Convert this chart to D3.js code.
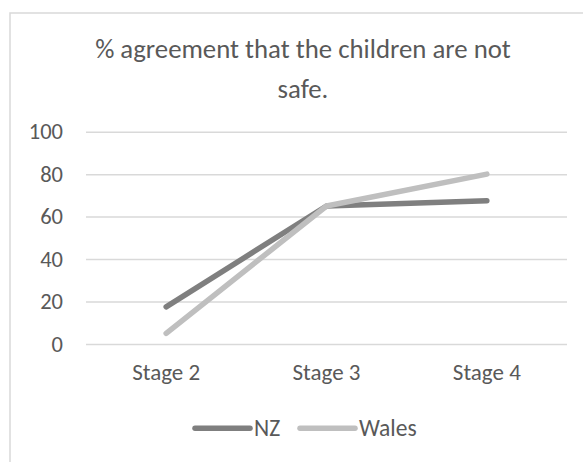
<!DOCTYPE html>
<html><head><meta charset="utf-8">
<script src="https://cdn.jsdelivr.net/npm/d3@7"></script>
<style>body{margin:0;background:#fff}svg{display:block}text{font-family:Carlito,Lato,"Open Sans",sans-serif;fill:#595959}</style>
</head><body>
<svg id="c" width="583" height="462"></svg>
<script>
const categories = ["Stage 2", "Stage 3", "Stage 4"];
const nzValues = [17.5, 65, 67.5];
const walesValues = [5, 65, 80];
const yTicks = [0, 20, 40, 60, 80, 100];
const seriesNames = ["NZ", "Wales"];
const titleLines = ["% agreement that the children are not", "safe."];

const series = [
  {name: seriesNames[0], values: nzValues, color: "#7f7f7f"},
  {name: seriesNames[1], values: walesValues, color: "#bfbfbf"}
];

const svg = d3.select("#c");
// chart border (cropped at right and bottom)
svg.append("rect").attr("x", 10).attr("y", 13).attr("width", 600).attr("height", 500)
  .attr("fill", "#fff").attr("stroke", "#d9d9d9").attr("stroke-width", 1.5);

const x = d3.scaleBand().domain(categories).range([86, 567]);
const y = d3.scaleLinear().domain([0, 100]).range([344, 131.7]);

// title
const title = svg.append("text").attr("text-anchor", "middle").attr("font-size", 26.8);
titleLines.forEach((l, i) => title.append("tspan").attr("x", 303).attr("y", 58 + i * 40).text(l));

// gridlines + y labels
const yAxis = d3.axisLeft(y).tickValues(yTicks).tickSize(-(567 - 86)).tickPadding(23);
const gy = svg.append("g").attr("transform", "translate(86,0)").call(yAxis);
gy.select(".domain").remove();
gy.selectAll(".tick line").attr("stroke", "#d9d9d9").attr("stroke-width", 1.5);
gy.selectAll(".tick text").attr("font-size", 22.5).attr("fill", "#595959");

const xAxis = d3.axisBottom(x).tickSize(0).tickPadding(20);
const gx = svg.append("g").attr("transform", "translate(0,344)").call(xAxis);
gx.select(".domain").remove();
gx.selectAll(".tick text").attr("font-size", 23).attr("fill", "#595959");
gy.attr("font-family", null); gx.attr("font-family", null);

const line = d3.line().x((d, i) => x(categories[i]) + x.bandwidth() / 2).y(d => y(d));
series.forEach(s => {
  svg.append("path").attr("d", line(s.values)).attr("fill", "none")
    .attr("stroke", s.color).attr("stroke-width", 5.5).attr("stroke-linecap", "round").attr("stroke-linejoin", "round");
});

// legend
const legendX = [195, 300];
series.forEach((s, i) => {
  const g = svg.append("g").attr("transform", `translate(${legendX[i]},428.3)`);
  g.append("line").attr("x1", 0).attr("x2", 55).attr("y1", 0).attr("y2", 0)
    .attr("stroke", s.color).attr("stroke-width", 5.5).attr("stroke-linecap", "round");
  g.append("text").attr("x", 59).attr("y", 7.5).attr("font-size", 23.5).text(s.name);
});
</script>
</body></html>
